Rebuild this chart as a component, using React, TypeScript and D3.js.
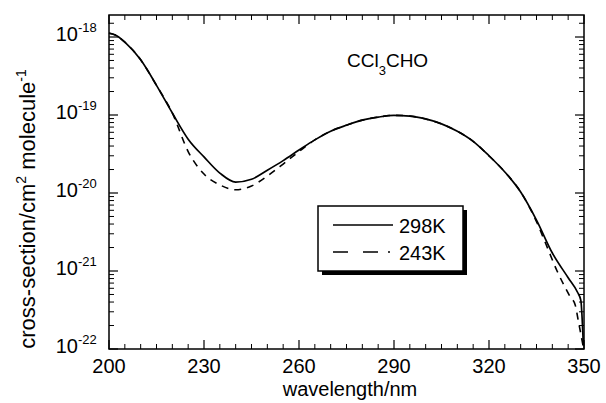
import React from "react";
import * as d3 from "d3";

// Absorption cross-sections of CCl3CHO (cm^2 molecule^-1) vs wavelength (nm)
const wavelengths298 = [200, 202, 205, 210, 215, 220, 225, 230, 235, 240, 245, 250, 255, 260, 265, 270, 275, 280, 285, 290, 295, 300, 305, 310, 315, 320, 325, 330, 335, 340, 345, 348, 349, 349.8];
const sigma298 = [1.12e-18, 1.06e-18, 8.6e-19, 5.1e-19, 2.4e-19, 1.06e-19, 4.9e-20, 2.9e-20, 1.8e-20, 1.38e-20, 1.5e-20, 1.96e-20, 2.6e-20, 3.55e-20, 4.8e-20, 6.2e-20, 7.4e-20, 8.6e-20, 9.4e-20, 9.9e-20, 9.7e-20, 8.9e-20, 7.7e-20, 6.2e-20, 4.6e-20, 3.0e-20, 1.86e-20, 1.03e-20, 4.5e-21, 1.7e-21, 8.2e-22, 5.3e-22, 4.2e-22, 1.1e-22];

const wavelengths243 = [200, 202, 205, 210, 215, 220, 225, 230, 235, 240, 245, 250, 255, 260, 265, 270, 275, 280, 285, 290, 295, 300, 305, 310, 315, 320, 325, 330, 335, 338, 341.5, 344, 345.6, 347.2, 348.2, 349.8];
const sigma243 = [1.12e-18, 1.06e-18, 8.6e-19, 5.1e-19, 2.4e-19, 1.06e-19, 3.4e-20, 1.75e-20, 1.27e-20, 1.1e-20, 1.23e-20, 1.65e-20, 2.35e-20, 3.4e-20, 4.8e-20, 6.2e-20, 7.4e-20, 8.6e-20, 9.4e-20, 9.9e-20, 9.7e-20, 8.9e-20, 7.7e-20, 6.2e-20, 4.6e-20, 3.0e-20, 1.86e-20, 1.03e-20, 4.3e-21, 2.2e-21, 1.0e-21, 6.2e-22, 4.7e-22, 3.7e-22, 2.3e-22, 1.05e-22];

const xTickValues = [200, 230, 260, 290, 320, 350];
const yDecades = [-22, -21, -20, -19, -18];
const legendLabels = ["298K", "243K"];

const FONT = "'Liberation Sans', Arial, Helvetica, sans-serif";

const left = 109;
const right = 584;
const top = 15;
const bottom = 349;

export default function App() {
  const x = d3.scaleLinear().domain([200, 350]).range([left, right]);
  const decadePx = 78;
  const yTopLog = -18 + (37 - top) / decadePx;
  const y = d3
    .scaleLog()
    .domain([1e-22, Math.pow(10, yTopLog)])
    .range([bottom, top]);

  const line = d3
    .line<[number, number]>()
    .x((d) => x(d[0]))
    .y((d) => y(d[1]))
    .curve(d3.curveMonotoneX);

  const d298 = line(wavelengths298.map((w, i) => [w, sigma298[i]] as [number, number])) || "";
  const d243 = line(wavelengths243.map((w, i) => [w, sigma243[i]] as [number, number])) || "";

  // x ticks: minor every 5 nm, major every 30 nm
  const xMinor = d3.range(200, 351, 5).filter((v) => (v - 200) % 30 !== 0);
  // y ticks: log minors 2..9 per decade
  const yMinor: number[] = [];
  for (let e = -22; e < -18; e++) {
    for (let m = 2; m <= 9; m++) yMinor.push(m * Math.pow(10, e));
  }
  yMinor.push(...[1.5e-18].filter((v) => y(v) > top));

  const majorLen = 9;
  const minorLen = 5;

  return (
    <svg width={606} height={403} style={{ position: "absolute", left: 0, top: 0, background: "#fff" }}>
      <rect width={606} height={403} fill="#fff" />
      {/* frame */}
      <rect x={left} y={top} width={right - left} height={bottom - top} fill="none" stroke="#000" strokeWidth={1.5} />

      {/* x ticks top & bottom */}
      {xTickValues.map((v) => (
        <g key={"xM" + v}>
          <line x1={x(v)} x2={x(v)} y1={bottom} y2={bottom - majorLen} stroke="#000" strokeWidth={1.2} />
          <line x1={x(v)} x2={x(v)} y1={top} y2={top + majorLen} stroke="#000" strokeWidth={1.2} />
          <text x={x(v)} y={373} textAnchor="middle" fontFamily={FONT} fontSize={20} fill="#000">
            {v}
          </text>
        </g>
      ))}
      {xMinor.map((v) => (
        <g key={"xm" + v}>
          <line x1={x(v)} x2={x(v)} y1={bottom} y2={bottom - minorLen} stroke="#000" strokeWidth={1} />
          <line x1={x(v)} x2={x(v)} y1={top} y2={top + minorLen} stroke="#000" strokeWidth={1} />
        </g>
      ))}

      {/* y ticks left & right */}
      {yDecades.map((e) => {
        const yy = y(Math.pow(10, e));
        return (
          <g key={"yM" + e}>
            <line x1={left} x2={left + majorLen} y1={yy} y2={yy} stroke="#000" strokeWidth={1.2} />
            <line x1={right} x2={right - majorLen} y1={yy} y2={yy} stroke="#000" strokeWidth={1.2} />
            <text x={78} y={yy + 4} textAnchor="end" fontFamily={FONT} fontSize={20} fill="#000">
              10
            </text>
            <text x={78} y={yy - 5} textAnchor="start" fontFamily={FONT} fontSize={13} fill="#000">
              {String(e)}
            </text>
          </g>
        );
      })}
      {yMinor.map((v, i) => {
        const yy = y(v);
        return (
          <g key={"ym" + i}>
            <line x1={left} x2={left + minorLen} y1={yy} y2={yy} stroke="#000" strokeWidth={1} />
            <line x1={right} x2={right - minorLen} y1={yy} y2={yy} stroke="#000" strokeWidth={1} />
          </g>
        );
      })}

      {/* curves */}
      <path d={d243} fill="none" stroke="#000" strokeWidth={1.6} strokeDasharray="7,6" />
      <path d={d298} fill="none" stroke="#000" strokeWidth={1.7} />

      {/* compound label */}
      <text x={347} y={67} fontFamily={FONT} fontSize={19} fill="#000">
        CCl
        <tspan fontSize={13} dy={8}>3</tspan>
        <tspan dy={-8}>CHO</tspan>
      </text>

      {/* legend */}
      <rect x={322} y={210} width={145} height={65} fill="#000" />
      <rect x={318} y={206} width={145} height={65} fill="#fff" stroke="#000" strokeWidth={1.5} />
      <line x1={333} x2={393} y1={225} y2={225} stroke="#000" strokeWidth={1.5} />
      <line x1={333} x2={393} y1={252} y2={252} stroke="#000" strokeWidth={1.5} strokeDasharray="15,15,15,10,2,60" />
      <text x={399} y={233} fontFamily={FONT} fontSize={20} fill="#000">
        {legendLabels[0]}
      </text>
      <text x={399} y={260} fontFamily={FONT} fontSize={20} fill="#000">
        {legendLabels[1]}
      </text>

      {/* axis titles */}
      <text x={350} y={396} textAnchor="middle" fontFamily={FONT} fontSize={20} fill="#000">
        wavelength/nm
      </text>
      <text
        transform="translate(35,209) rotate(-90)"
        textAnchor="middle"
        fontFamily={FONT}
        fontSize={22}
        fill="#000"
      >
        cross-section/cm
        <tspan fontSize={14} dy={-9}>2</tspan>
        <tspan dy={9}> molecule</tspan>
        <tspan fontSize={14} dy={-9}>-1</tspan>
      </text>
    </svg>
  );
}
